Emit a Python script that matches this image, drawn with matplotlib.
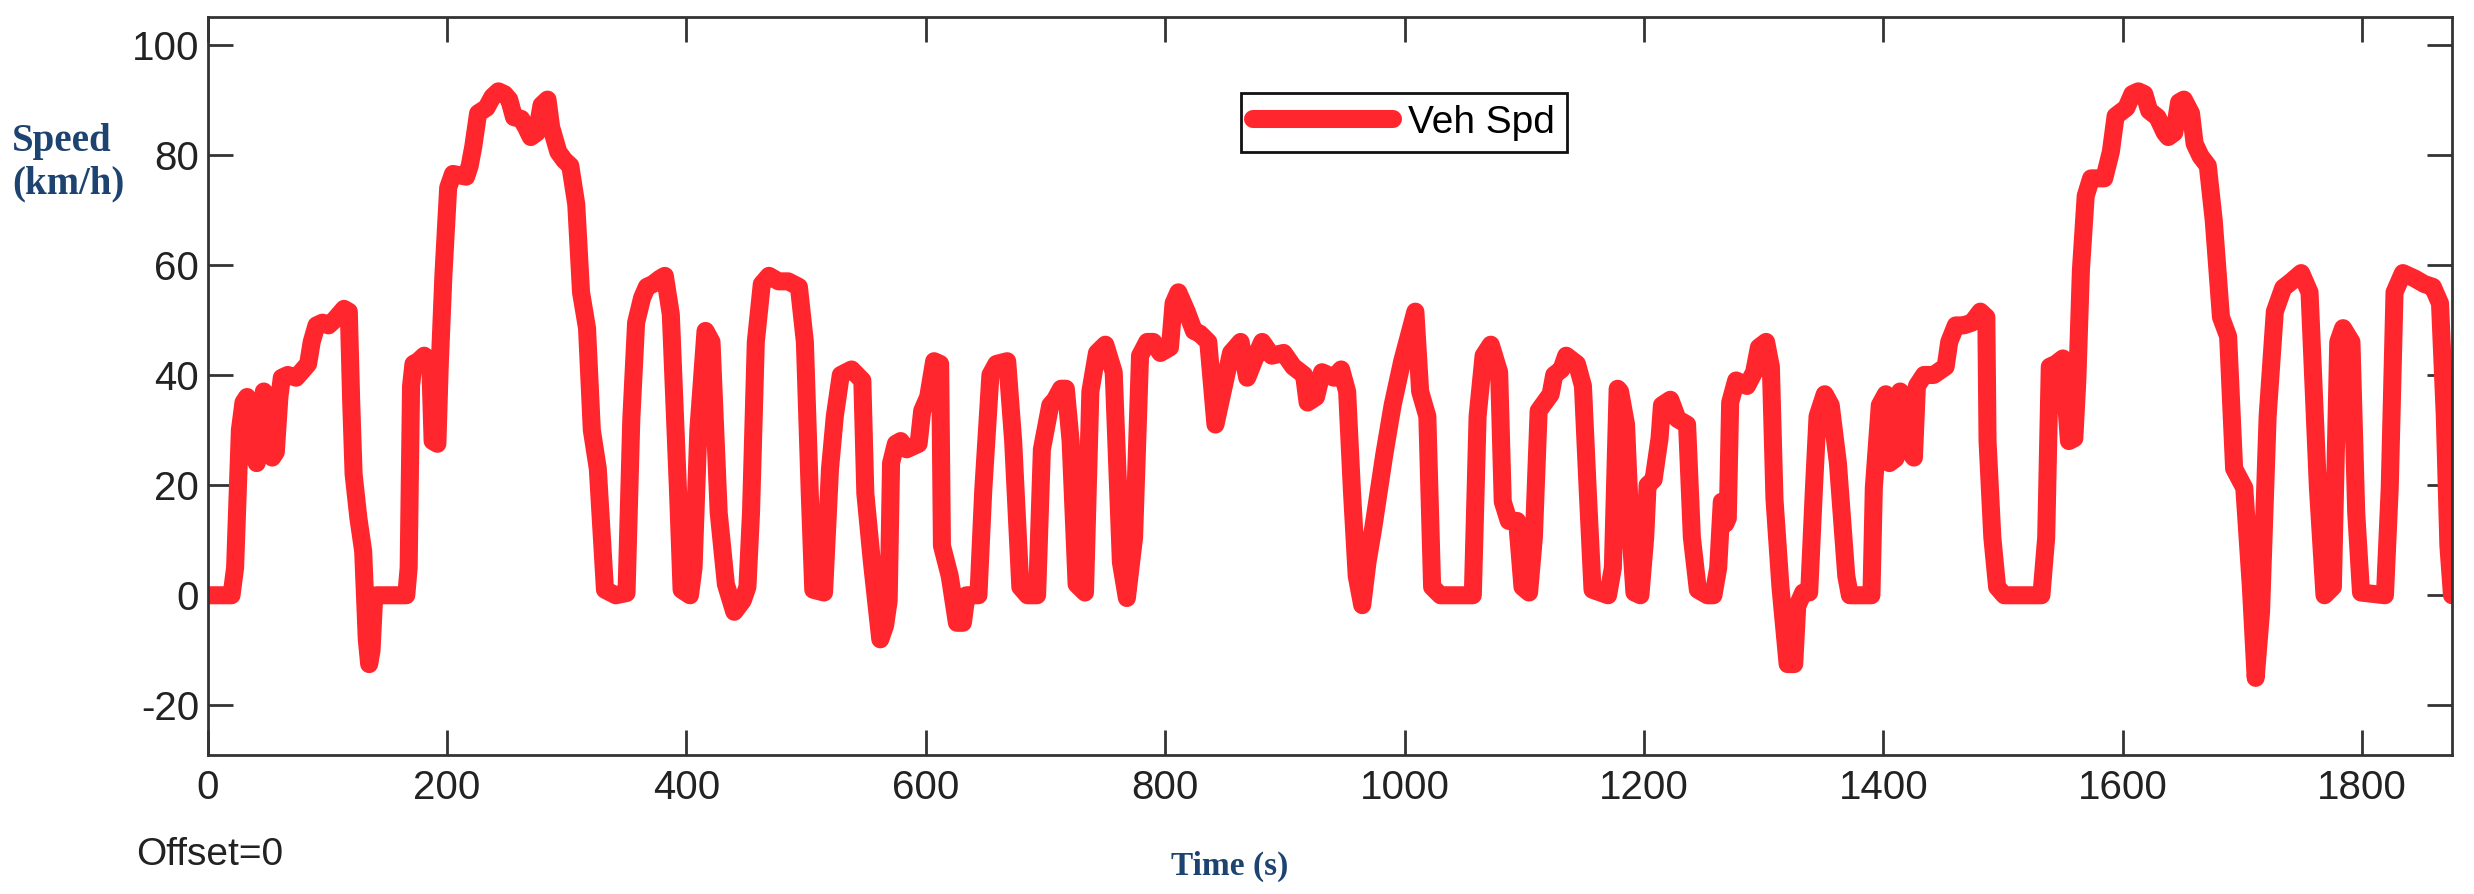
import matplotlib
matplotlib.use("Agg")
from matplotlib import pyplot as plt

# vehicle speed trace (time in s, speed in km/h)
time_s = [
    0, 20, 23, 27, 30, 33, 37, 41, 44, 47, 50, 54, 57, 60, 62, 67, 74, 80, 84, 87,
    91, 96, 101, 106, 110, 114, 118, 120, 122, 126, 130, 133, 135, 137, 139, 141,
    166, 168, 170, 172, 176, 181, 186, 188, 192, 194, 197, 201, 205, 216, 219, 222,
    226, 233, 238, 243, 248, 252, 256, 262, 266, 270, 275, 279, 284, 287, 293, 298,
    303, 308, 312, 317, 321, 326, 332, 341, 350, 354, 358, 363, 367, 372, 378, 382,
    387, 393, 396, 403, 406, 410, 416, 421, 427, 433, 440, 447, 451, 454, 458, 463,
    469, 477, 485, 494, 499, 503, 506, 515, 520, 524, 529, 538, 547, 549.5, 555, 562,
    566, 569, 571, 575, 579, 584, 594, 597, 602, 607, 612, 613.5, 620, 626, 631, 634,
    644, 648, 654, 659, 668, 673, 679, 685, 693, 697, 704, 708, 713, 717, 721, 726,
    733, 737.5, 743, 750, 757, 763, 768, 774, 779, 785, 790, 796, 804, 807, 811, 818,
    824, 829, 836, 842, 848, 855, 863, 868.5, 874, 881, 889, 899, 907, 916, 919, 926,
    931, 941, 947, 952, 956, 960, 964.6, 969, 974, 983, 990, 998, 1009, 1013, 1019, 1023,
    1030, 1057, 1061, 1066, 1072, 1079, 1082, 1087, 1094, 1098.5, 1104, 1108, 1112, 1122, 1125, 1131,
    1135, 1144, 1149, 1153, 1157, 1170, 1174, 1178, 1180, 1185, 1189, 1192, 1197, 1201, 1203, 1208,
    1213, 1215, 1222, 1228, 1236, 1240, 1245, 1253, 1258, 1262, 1265, 1268, 1270, 1272, 1277, 1286,
    1292, 1296, 1302, 1306, 1309, 1314, 1320, 1325.5, 1328, 1333, 1338, 1342, 1345, 1351, 1356, 1362,
    1369, 1372, 1390, 1392, 1397, 1402, 1405, 1410, 1414, 1416, 1420, 1425.5, 1428, 1434, 1442, 1452,
    1455, 1460.5, 1467, 1474, 1481, 1486, 1487, 1491, 1495, 1501, 1532, 1536, 1539, 1544, 1550, 1555,
    1559.5, 1562, 1565, 1569, 1573.5, 1584.5, 1590, 1594, 1603, 1608, 1613, 1618, 1622, 1629, 1635, 1638,
    1643, 1647, 1651, 1657, 1660, 1665, 1671, 1676, 1682, 1688, 1693, 1701.5, 1707, 1711, 1715.5, 1721,
    1727, 1734, 1741, 1749, 1756, 1763, 1768.5, 1775.5, 1780, 1784, 1791, 1795, 1799, 1819, 1823, 1827,
    1834, 1844, 1852, 1859, 1865, 1869, 1872, 1875,
]
speed_kmh = [
    0, 0, 5, 30, 35, 36, 30, 24, 26, 37, 36, 25, 26, 36, 39.5, 40, 39.5, 41, 42, 46,
    49, 49.5, 49, 50, 51, 52, 51.5, 35, 22, 14, 8, -8, -12.5, -10, -1, 0,
    0, 5, 38, 42, 42.5, 43.5, 42.5, 28, 27.5, 42, 58, 74, 76.5, 76, 78, 81.5,
    87.5, 88.5, 90.5, 91.5, 91, 90, 86.8, 86.5, 85, 83.2, 84, 89, 90, 85, 80.5, 79,
    78, 71, 55, 48.5, 30, 23, 1, 0, 0.4, 32, 49.5, 54, 56, 56.5, 57.5, 58,
    51, 19, 1, 0, 5, 30, 48, 46, 15, 2, -3, -1, 1.5, 15, 46, 56.5,
    58, 57, 57, 56, 46, 19, 1, 0.5, 23, 32.5, 40, 41, 39, 18.5, 6, -8,
    -5.5, -1, 24, 27.5, 28, 26.5, 27.5, 33.5, 36, 42.5, 42, 9, 3.5, -5, -5, 0,
    0, 19, 40, 42, 42.5, 28, 1.5, 0, 0, 26.5, 34.5, 35.5, 37.5, 37.5, 28, 2,
    0.5, 37, 44, 45.5, 40.5, 6, -0.5, 10.5, 43.5, 46, 46, 44, 45, 53, 55, 51.5,
    48, 47.5, 46, 31, 37, 44, 46, 39.5, 42.5, 46, 43.5, 44, 41.5, 40, 35, 36,
    40.5, 39.5, 41, 37, 19, 3.5, -1.8, 6, 12.5, 25.5, 34.5, 42.5, 51.5, 37, 32.5, 1.5,
    0, 0, 32.5, 43.5, 45.5, 40.5, 17, 13.5, 13.5, 1.5, 0.5, 10.5, 33.5, 36.5, 40, 41,
    43.5, 42, 38, 19, 1, 0, 5, 37.5, 37, 31, 10.5, 0.5, 0, 10.5, 20, 21,
    28.5, 34.5, 35.5, 32, 31, 10.5, 1, 0, 0, 5, 17, 13, 14, 35, 39, 38,
    40.5, 45, 46, 41.5, 17.5, 1.5, -12.5, -12.5, -2, 0.5, 0.5, 19.5, 32.5, 36.5, 34.5, 24,
    3.5, 0, 0, 19.5, 34.5, 36.5, 24, 24.8, 37, 36.5, 26.5, 25, 38, 40, 40, 41.5,
    46, 49, 49, 49.5, 51.5, 50.5, 28, 10.5, 1.5, 0, 0, 10.5, 41.5, 42, 43, 28,
    28.5, 39, 59, 72.5, 75.7, 75.7, 80.5, 87, 88.5, 91, 91.5, 91, 88, 86.8, 84, 83.2,
    84, 89.5, 90, 87.5, 82, 79.7, 78, 68, 50.5, 47, 23, 19.5, 1.5, -15, -3, 32.5,
    51.5, 55.8, 57, 58.5, 55, 19.5, 0, 1.5, 46, 48.5, 46, 15, 0.5, 0, 19.5, 55,
    58.5, 57.5, 56.5, 56, 53, 32.5, 9, 0,
]
x_ticks = [0, 200, 400, 600, 800, 1000, 1200, 1400, 1600, 1800]
y_ticks = [-20, 0, 20, 40, 60, 80, 100]

plt.rcParams["axes.unicode_minus"] = False
sans = ["Liberation Sans", "DejaVu Sans"]
serif = ["Liberation Serif", "DejaVu Serif"]
label_color = "#1d4470"
edge = "#333333"

fig = plt.figure(figsize=(24.74, 8.94), dpi=100)
ax = fig.add_axes([0.0839, 0.1555, 0.9072, 0.8255])

ax.plot(time_s, speed_kmh, color="#ff262d", linewidth=13,
        solid_joinstyle="round", solid_capstyle="round", label="Veh Spd")

ax.set_xlim(0, 1875)
ax.set_ylim(-29, 105)
ax.set_xticks(x_ticks)
ax.set_yticks(y_ticks)
ax.tick_params(direction="in", length=18, width=2, color=edge,
               top=True, right=True, labelsize=29, pad=10)
ax.tick_params(axis="y", pad=6)
for lab in ax.get_xticklabels() + ax.get_yticklabels():
    lab.set_family(sans)
    lab.set_color("#222222")
for sp in ax.spines.values():
    sp.set_color(edge)
    sp.set_linewidth(2)

leg = ax.legend(loc="center", bbox_to_anchor=(0.533, 0.857), prop={"family": sans, "size": 28},
                handlelength=3.6, handletextpad=0.4, borderpad=0.3, fancybox=False,
                framealpha=1, edgecolor="#111111")
leg.get_frame().set_linewidth(2)

fig.text(0.005, 0.818, "Speed\n(km/h)", family=serif, fontsize=28, weight="bold",
         color=label_color, ha="left", va="center", linespacing=1.2)
fig.text(0.497, 0.031, "Time (s)", family=serif, fontsize=24, weight="bold",
         color=label_color, ha="center", va="center")
fig.text(0.055, 0.044, "Offset=0", family=sans, fontsize=28, color="#222222",
         ha="left", va="center")

fig.savefig("out.png", dpi=100)
